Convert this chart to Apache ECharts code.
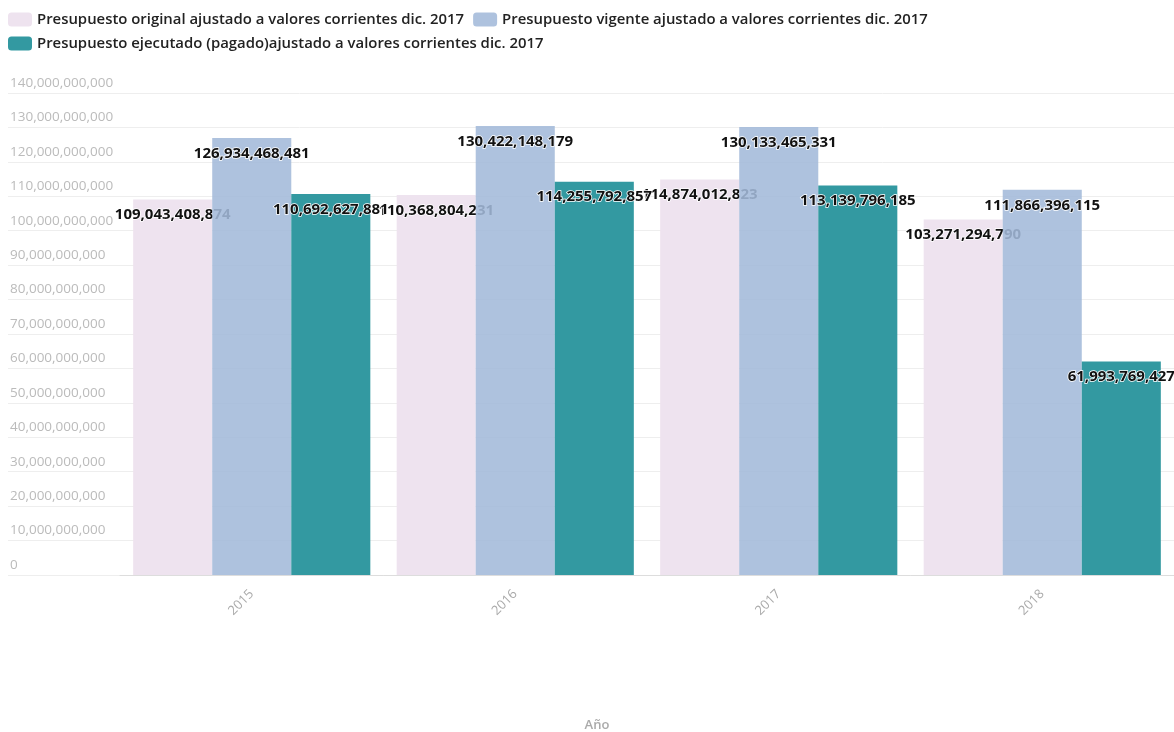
<!DOCTYPE html>
<html><head><meta charset="utf-8">
<script src="https://cdn.jsdelivr.net/npm/echarts@6/dist/echarts.min.js"></script>
<style>html,body{margin:0;padding:0;background:#fff}#c{width:1174px;height:732px}</style>
</head><body><div id="c"></div>
<script>
var categories = ['2015', '2016', '2017', '2018'];
var seriesNames = [
  'Presupuesto original ajustado a valores corrientes dic. 2017',
  'Presupuesto vigente ajustado a valores corrientes dic. 2017',
  'Presupuesto ejecutado (pagado)ajustado a valores corrientes dic. 2017'
];
var original = [109043408874, 110368804231, 114874012823, 103271294790];
var vigente = [126934468481, 130422148179, 130133465331, 111866396115];
var ejecutado = [110692627881, 114255792857, 113139796185, 61993769427];
var yTicks = { min: 0, max: 140000000000, interval: 10000000000 };
var colors = ['#eee3ef', 'rgba(163,185,218,0.88)', '#3399a1'];

var chart = echarts.init(document.getElementById('c'));
function fmt(v) { return String(v).replace(/\B(?=(\d{3})+(?!\d))/g, ','); }
var labelCfg = {
  show: true, position: 'insideTop', distance: 8,
  fontFamily: 'Open Sans', fontSize: 15, fontWeight: 700, color: '#111',
  textBorderColor: '#fff', textBorderWidth: 1.5,
  formatter: function (p) { return fmt(p.value); }
};
function mk(i, data) {
  return {
    name: seriesNames[i], type: 'bar', data: data, z: 2 + i,
    xAxisIndex: 0, yAxisIndex: 0,
    barGap: '0%', barCategoryGap: '10%',
    itemStyle: { color: colors[i] },
    label: labelCfg
  };
}
chart.setOption({
  animation: false,
  legend: {
    left: 3, top: 7, itemWidth: 24, itemHeight: 14, itemGap: 9,
    icon: 'roundRect',
    textStyle: { fontFamily: 'Open Sans', fontSize: 14.9, fontWeight: 600, color: '#222', lineHeight: 13 },
    data: seriesNames
  },
  grid: [
    { left: 120, right: 0, top: 93, bottom: 157, outerBoundsMode: 'none', containLabel: false },
    { left: 8, right: 0, top: 93, bottom: 157, outerBoundsMode: 'none', containLabel: false }
  ],
  xAxis: [
    {
      gridIndex: 0, type: 'category', data: categories,
      axisLine: { lineStyle: { color: '#ddd' } },
      axisTick: { alignWithLabel: true, length: 5, lineStyle: { color: '#ddd' } },
      axisLabel: { rotate: 45, fontFamily: 'Open Sans', fontSize: 13, color: '#aaa', margin: 17 }
    },
    {
      gridIndex: 1, type: 'category', data: categories,
      name: 'Año', nameLocation: 'middle', nameGap: 144,
      nameTextStyle: { fontFamily: 'Open Sans', fontSize: 13, fontWeight: 600, color: '#aaa', padding: [0, 0, 0, 12] },
      axisLine: { show: false }, axisTick: { show: false }, axisLabel: { show: false }, splitLine: { show: false }
    }
  ],
  yAxis: [
    {
      gridIndex: 0, type: 'value', min: yTicks.min, max: yTicks.max, interval: yTicks.interval,
      axisLabel: { show: false }, splitLine: { show: false }, axisLine: { show: false }, axisTick: { show: false }
    },
    {
      gridIndex: 1, type: 'value', min: yTicks.min, max: yTicks.max, interval: yTicks.interval,
      axisLine: { show: false }, axisTick: { show: false },
      splitLine: { lineStyle: { color: '#eeeeee' } },
      axisLabel: {
        inside: true, margin: 2, verticalAlign: 'bottom', padding: [0, 0, 3, 0],
        fontFamily: 'Open Sans', fontSize: 13.5, color: '#bbb',
        formatter: function (v) { return fmt(v); }
      }
    }
  ],
  series: [mk(0, original), mk(1, vigente), mk(2, ejecutado)]
});
</script></body></html>
